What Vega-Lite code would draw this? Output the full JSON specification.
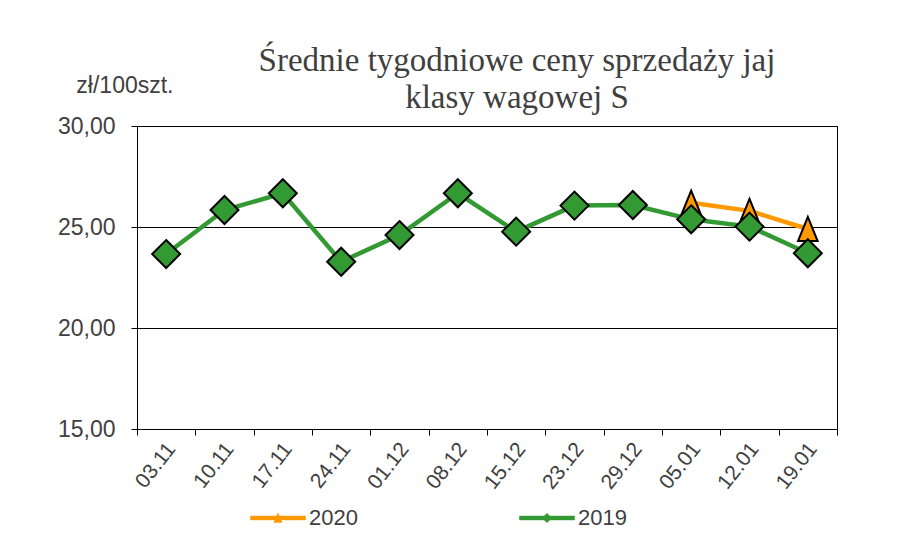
{
  "$schema": "https://vega.github.io/schema/vega-lite/v6.json",
  "width": 700,
  "height": 303,
  "autosize": "none",
  "padding": {"left": 137, "top": 126, "right": 68, "bottom": 105},
  "background": "white",
  "config": {
    "locale": {"number": {"decimal": ",", "thousands": " ", "grouping": [3], "currency": ["", " zł"]}},
    "view": {"stroke": "black", "strokeWidth": 1},
    "font": "Liberation Sans"
  },
  "title": {
    "text": ["Średnie tygodniowe ceny sprzedaży jaj", "klasy wagowej S"],
    "anchor": "middle",
    "frame": "group",
    "dx": 30,
    "offset": -41,
    "font": "Liberation Serif",
    "fontSize": 33,
    "fontWeight": "normal",
    "lineHeight": 37,
    "color": "#404040"
  },
  "data": {
    "values": [
      {"week": "05.01", "year": "2020", "price": 26.2},
      {"week": "12.01", "year": "2020", "price": 25.8},
      {"week": "19.01", "year": "2020", "price": 24.9},
      {"week": "03.11", "year": "2019", "price": 23.66},
      {"week": "10.11", "year": "2019", "price": 25.84},
      {"week": "17.11", "year": "2019", "price": 26.67},
      {"week": "24.11", "year": "2019", "price": 23.28},
      {"week": "01.12", "year": "2019", "price": 24.6},
      {"week": "08.12", "year": "2019", "price": 26.67},
      {"week": "15.12", "year": "2019", "price": 24.77},
      {"week": "23.12", "year": "2019", "price": 26.06},
      {"week": "29.12", "year": "2019", "price": 26.09},
      {"week": "05.01", "year": "2019", "price": 25.38},
      {"week": "12.01", "year": "2019", "price": 25.02},
      {"week": "19.01", "year": "2019", "price": 23.7}
    ]
  },
  "encoding": {
    "x": {
      "field": "week",
      "type": "ordinal",
      "scale": {
        "domain": ["03.11", "10.11", "17.11", "24.11", "01.12", "08.12", "15.12", "23.12", "29.12", "05.01", "12.01", "19.01"],
        "paddingInner": 0,
        "paddingOuter": 0
      },
      "axis": {
        "title": null,
        "labelAngle": -52,
        "labelAlign": "right",
        "labelBaseline": "middle",
        "labelFontSize": 21,
        "labelColor": "#404040",
        "labelPadding": 10,
        "labelOffset": 5,
        "tickBand": "extent",
        "tickSize": 6,
        "tickColor": "black",
        "domainColor": "black",
        "grid": false
      }
    },
    "y": {
      "field": "price",
      "type": "quantitative",
      "scale": {"domain": [15, 30], "nice": false, "zero": false},
      "axis": {
        "values": [15, 20, 25, 30],
        "format": ".2f",
        "labelFontSize": 23,
        "labelColor": "#404040",
        "labelPadding": 16,
        "tickSize": 6,
        "tickColor": "black",
        "domainColor": "black",
        "grid": true,
        "gridColor": "black",
        "gridOpacity": 1,
        "title": "zł/100szt.",
        "titleAngle": 0,
        "titleAlign": "right",
        "titleBaseline": "alphabetic",
        "titleX": 36,
        "titleY": -34,
        "titleFontSize": 23,
        "titleFontWeight": "normal",
        "titleColor": "#404040"
      }
    },
    "color": {
      "field": "year",
      "type": "nominal",
      "scale": {"domain": ["2020", "2019"], "range": ["#ff9900", "#339933"]},
      "legend": {
        "title": null,
        "orient": "none",
        "direction": "horizontal",
        "legendX": 113,
        "legendY": 364,
        "columnPadding": 160,
        "symbolSize": 3025,
        "symbolType": "M-1,-0.07H1V0.07H-1Z",
        "labelOffset": 3,
        "labelFontSize": 22,
        "labelColor": "#404040",
        "encode": {
          "symbols": {
            "update": {
              "shape": {"signal": "datum.value === '2020' ? 'M-1,-0.07H1V0.07H-1Z M0,-0.18L0.15,0.16H-0.15Z' : 'M-1,-0.07H1V0.07H-1Z M0,-0.17L0.17,0L0,0.17L-0.17,0Z'"},
              "fill": {"scale": "color", "field": "value"},
              "stroke": {"scale": "color", "field": "value"},
              "strokeWidth": {"value": 0.5},
              "opacity": {"value": 1},
              "fillOpacity": {"value": 1}
            }
          }
        }
      }
    }
  },
  "layer": [
    {
      "mark": {"type": "line", "strokeWidth": 4.5},
      "encoding": {"detail": {"field": "year"}}
    },
    {
      "transform": [{"filter": "datum.year === '2020'"}],
      "mark": {"type": "point", "filled": true, "opacity": 1, "stroke": "black", "strokeWidth": 2, "size": 784, "shape": "M0,-0.86L0.7,0.86H-0.7Z"}
    },
    {
      "transform": [{"filter": "datum.year === '2019'"}],
      "mark": {"type": "point", "filled": true, "opacity": 1, "stroke": "black", "strokeWidth": 2, "size": 784, "shape": "M0,-1L1,0L0,1L-1,0Z"}
    }
  ]
}
